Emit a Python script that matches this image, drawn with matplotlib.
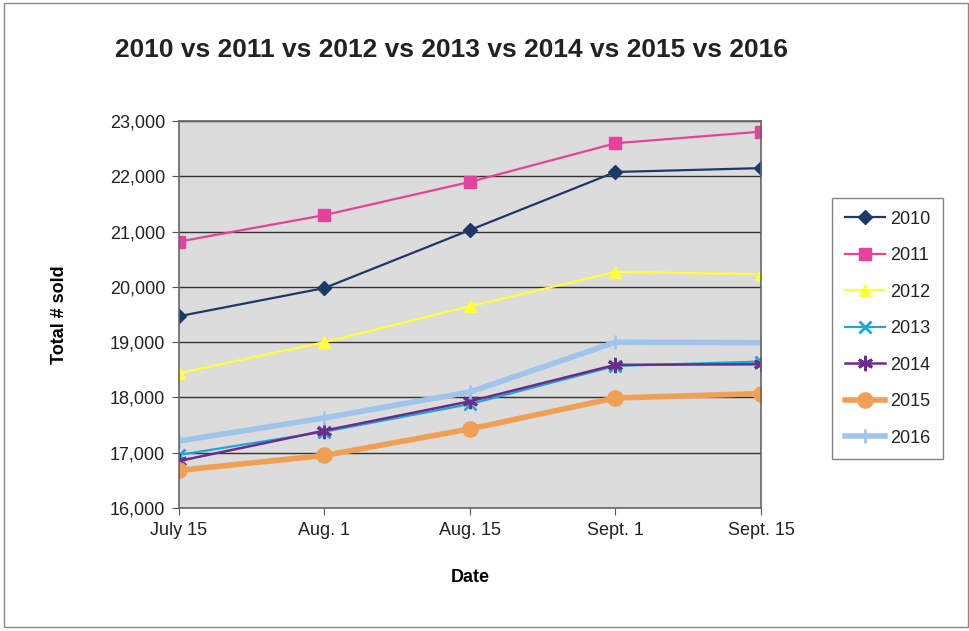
import matplotlib
matplotlib.use('Agg')
import matplotlib.pyplot as plt
from matplotlib.ticker import FuncFormatter

plt.rcParams['font.family'] = ['Liberation Sans', 'DejaVu Sans']
plt.rcParams['text.color'] = '#222222'

dates = ['July 15', 'Aug. 1', 'Aug. 15', 'Sept. 1', 'Sept. 15']
years = ['2010', '2011', '2012', '2013', '2014', '2015', '2016']

sold_2010 = [19470, 19980, 21030, 22080, 22150]
sold_2011 = [20820, 21300, 21900, 22600, 22810]
sold_2012 = [18440, 19000, 19650, 20270, 20230]
sold_2013 = [16960, 17380, 17880, 18570, 18650]
sold_2014 = [16850, 17400, 17930, 18590, 18600]
sold_2015 = [16680, 16950, 17430, 17990, 18070]
sold_2016 = [17210, 17630, 18100, 19000, 18990]

series = [sold_2010, sold_2011, sold_2012, sold_2013, sold_2014, sold_2015, sold_2016]

# colour, marker, marker size, line width
styles = [
    ('#1c3a66', 'D', 7, 1.6),
    ('#e2449b', 's', 9, 1.6),
    ('#ffff3a', '^', 9, 1.6),
    ('#1ea7d6', 'x', 8, 1.6),
    ('#6b2c8c', (6, 2, 0), 11, 1.8),
    ('#f0a055', 'o', 11, 4.0),
    ('#9fc5ec', '|', 10, 4.0),
]

fig = plt.figure(figsize=(9.7, 6.31), dpi=100)
fig.patches.append(plt.Rectangle((0.004, 0.006), 0.994, 0.99, transform=fig.transFigure,
                                 fill=False, edgecolor='#888888', linewidth=1.0))
ax = fig.add_axes([0.1845, 0.195, 0.6, 0.613])
ax.set_facecolor('#dcdcdc')

x = list(range(len(dates)))
for yr, vals, (c, m, ms, lw) in zip(years, series, styles):
    mew = 2 if m in ('x', '|', (6, 2, 0)) else 1
    ax.plot(x, vals, color=c, marker=m, markersize=ms, linewidth=lw,
            markeredgecolor=c, markerfacecolor=c, markeredgewidth=mew, label=yr)

ax.set_xlim(0, 4)
ax.set_ylim(16000, 23000)
ax.set_yticks(range(16000, 23001, 1000))
ax.yaxis.set_major_formatter(FuncFormatter(lambda v, p: f'{int(v):,}'))
ax.set_xticks(x)
ax.set_xticklabels(dates)
ax.grid(axis='y', color='#333333', linewidth=1.0)
ax.set_axisbelow(True)
ax.tick_params(labelsize=13, direction='out', length=5, color='#555555', pad=5,
               labelcolor='#222222')
for s in ax.spines.values():
    s.set_color('#666666')
    s.set_linewidth(1.2)

ax.set_xlabel('Date', fontsize=13, fontweight='bold', labelpad=22)
ax.set_ylabel('Total # sold', fontsize=13, fontweight='bold', labelpad=30)
fig.text(0.465, 0.921, '2010 vs 2011 vs 2012 vs 2013 vs 2014 vs 2015 vs 2016',
         ha='center', va='center', fontsize=19, fontweight='bold')

leg = fig.legend(loc='upper left', bbox_to_anchor=(0.858, 0.686), fontsize=13,
                 frameon=True, fancybox=False, edgecolor='#666666',
                 handlelength=2.2, handletextpad=0.3, labelspacing=1.08,
                 borderpad=0.7, borderaxespad=0)
leg.get_frame().set_linewidth(1.0)

fig.savefig('out.png', dpi=100)
